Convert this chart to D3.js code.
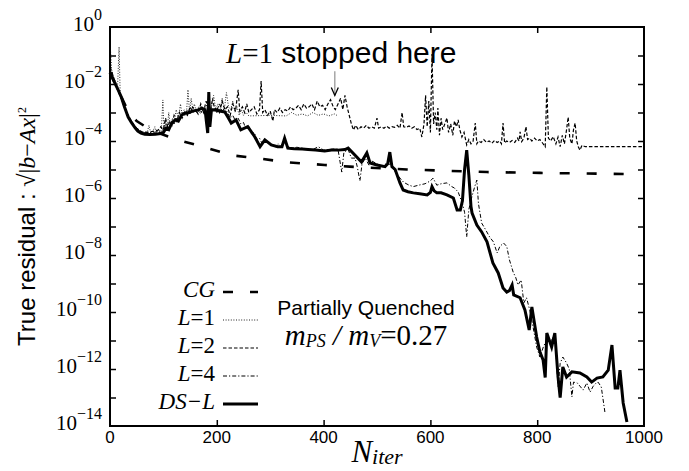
<!DOCTYPE html>
<html>
<head>
<meta charset="utf-8">
<script src="https://cdn.jsdelivr.net/npm/d3@7"></script>
<style>
  body { margin: 0; background: #fff; }
  .serif { font-family: "Liberation Serif", "Times New Roman", serif; }
  .sans { font-family: "Liberation Sans", Arial, sans-serif; }
</style>
</head>
<body>
<svg id="chart" width="689" height="471"></svg>
<script>
// values: [iteration, log10(residual)]
var cgData = [[0,-1.6],[20,-2.4],[35,-3.0],[50,-3.3],[75,-3.6],[100,-3.78],[127,-3.96],[183,-4.25],[227,-4.5],[283,-4.62],
  [327,-4.74],[402,-4.84],[449,-4.9],[556,-5.0],[706,-5.09],[805,-5.12],[966,-5.16]];

var l1Data = [[0,-0.5],[3,-1.5],[6,-1.7],[10,-1.9],[14,-2.2],[17,-0.7],[19,-2.3],[22,-2.5],[26,-2.7],[30,-2.9],[35,-3.1],
  [40,-3.3],[45,-3.45],[50,-3.55],[55,-3.62],[60,-3.68],[65,-3.7],[70,-3.68],[73,-3.45],[76,-3.7],[80,-3.68],[84,-3.5],
  [87,-3.7],[92,-3.62],[96,-3.68],[99,-2.56],[101,-3.6],[104,-3.3],[107,-3.65],[110,-3.0],[113,-3.5],[117,-3.2],[120,-3.4],
  [124,-2.9],[128,-3.2],[132,-2.7],[135,-3.1],[139,-2.9],[143,-3.1],[146,-2.2],[149,-3.0],[152,-2.5],[155,-2.9],[158,-2.7],
  [162,-3.0],[166,-2.8],[170,-3.0],[174,-2.9],[178,-3.05],[182,-2.6],[186,-3.0],[190,-2.8],[194,-2.4],[198,-2.9],[202,-2.7],
  [206,-3.0],[210,-2.5],[214,-2.9],[218,-2.3],[222,-2.8],[226,-2.9],[230,-2.6],[234,-3.0],[238,-2.8],[242,-3.1],[246,-2.9],
  [250,-3.1],[255,-3.0],[260,-3.12],[300,-3.1],[330,-3.12],[340,-3.0],[350,-3.1],[360,-3.05],[370,-3.12],[380,-3.0],
  [390,-3.1],[400,-3.05],[410,-3.12],[420,-3.05],[425,-3.1]];

var l2Data = [[0,-1.4],[4,-1.6],[8,-1.9],[12,-2.1],[16,-2.3],[20,-2.45],[25,-2.7],[30,-2.95],[35,-3.15],[40,-3.3],[45,-3.45],
  [50,-3.55],[55,-3.63],[60,-3.68],[70,-3.7],[80,-3.66],[90,-3.62],[95,-3.5],[100,-3.6],[104,-3.2],[108,-3.5],[112,-3.3],
  [116,-3.45],[120,-3.1],[125,-3.3],[130,-3.0],[135,-3.2],[140,-3.0],[145,-3.1],[150,-2.8],[155,-3.0],[160,-2.9],[165,-3.05],
  [170,-2.7],[175,-3.0],[180,-2.6],[184,-2.9],[188,-3.0],[192,-2.5],[196,-2.9],[200,-2.8],[205,-3.0],[210,-2.6],[215,-2.9],
  [220,-2.8],[225,-3.1],[230,-2.7],[235,-2.95],[240,-2.2],[243,-2.95],[248,-2.8],[252,-3.0],[256,-2.7],[260,-3.0],[265,-2.9],
  [270,-2.8],[275,-3.05],[280,-2.9],[283,-1.9],[286,-3.0],[290,-2.9],[295,-3.1],[300,-2.95],[305,-3.3],[308,-2.9],[313,-3.0],
  [318,-2.85],[323,-3.0],[328,-2.9],[333,-2.95],[338,-2.8],[343,-2.9],[348,-2.85],[353,-2.75],[358,-2.9],[363,-2.7],
  [368,-2.85],[373,-2.8],[378,-2.7],[383,-2.9],[388,-2.6],[393,-2.8],[398,-2.75],[403,-2.9],[408,-2.7],[413,-2.55],
  [418,-2.8],[422,-2.9],[427,-2.7],[432,-2.5],[436,-2.9],[440,-2.4],[444,-2.8],[448,-3.1],[452,-3.4],[456,-3.61],[460,-3.45],
  [465,-3.6],[470,-3.5],[475,-3.55],[480,-3.45],[485,-3.55],[490,-3.5],[495,-3.55],[500,-3.2],[503,-3.55],[508,-3.5],
  [513,-3.55],[518,-3.48],[523,-3.55],[528,-3.5],[533,-3.52],[538,-3.45],[543,-3.55],[547,-3.0],[550,-3.5],[555,-3.52],
  [560,-3.47],[565,-3.55],[570,-3.5],[575,-3.6],[580,-3.55],[584,-3.86],[588,-3.4],[591,-2.4],[594,-3.5],[597,-2.6],
  [600,-3.7],[603,-0.95],[606,-3.4],[609,-3.0],[612,-3.6],[614,-2.84],[617,-3.8],[620,-3.2],[623,-3.6],[627,-3.4],
  [631,-3.19],[634,-3.7],[638,-3.4],[642,-3.8],[645,-3.3],[649,-3.5],[652,-3.26],[655,-3.6],[659,-3.86],[663,-3.7],
  [668,-4.14],[672,-3.95],[676,-4.1],[680,-4.0],[684,-3.37],[687,-4.1],[690,-4.0],[695,-4.05],[700,-3.95],[705,-4.05],
  [710,-4.0],[715,-4.08],[720,-3.98],[725,-4.05],[730,-4.0],[733,-4.1],[736,-3.37],[739,-4.07],[743,-4.0],[748,-4.05],
  [753,-3.98],[758,-4.05],[763,-3.9],[766,-4.0],[768,-3.68],[771,-4.02],[775,-3.9],[779,-3.5],[782,-3.95],[786,-3.9],
  [790,-4.0],[795,-3.9],[800,-4.0],[805,-3.95],[810,-4.07],[815,-4.2],[818,-2.1],[821,-3.9],[825,-4.0],[830,-3.85],
  [835,-4.1],[839,-3.86],[843,-4.2],[847,-3.8],[851,-4.1],[855,-3.6],[858,-3.16],[861,-3.9],[865,-4.1],[868,-3.6],
  [871,-3.37],[874,-4.0],[877,-4.2],[880,-4.32],[884,-4.15],[890,-4.2],[899,-4.2],[1000,-4.2]];

var l4Data = [[0,-1.5],[5,-1.7],[10,-2.0],[15,-2.25],[20,-2.45],[25,-2.7],[30,-2.95],[35,-3.15],[40,-3.3],[45,-3.45],
  [50,-3.55],[55,-3.63],[60,-3.7],[70,-3.72],[80,-3.7],[90,-3.68],[100,-3.6],[105,-3.4],[110,-3.55],[115,-3.3],[120,-3.4],
  [125,-3.2],[130,-3.3],[135,-3.0],[140,-3.1],[145,-2.9],[150,-3.05],[155,-2.8],[160,-3.0],[165,-2.9],[170,-3.05],
  [175,-2.85],[180,-3.0],[185,-2.8],[190,-2.95],[195,-2.9],[200,-3.0],[205,-2.7],[210,-2.95],[215,-2.85],[220,-3.0],
  [225,-3.2],[230,-3.1],[235,-3.3],[240,-3.2],[245,-3.4],[250,-3.35],[255,-3.6],[260,-3.5],[265,-3.75],[270,-3.7],
  [275,-3.95],[280,-3.9],[285,-4.1],[290,-3.95],[295,-4.05],[300,-4.1],[305,-4.15],[310,-4.2],[315,-4.1],[320,-4.2],
  [327,-3.9],[333,-4.2],[340,-4.25],[350,-4.22],[360,-4.25],[370,-4.28],[380,-4.3],[390,-4.2],[400,-4.32],[410,-4.3],
  [420,-4.28],[427,-4.3],[434,-5.09],[438,-4.4],[446,-4.3],[452,-4.6],[459,-4.6],[463,-4.9],[468,-5.4],[472,-4.8],
  [478,-4.6],[485,-4.85],[490,-4.7],[500,-4.8],[510,-4.9],[520,-4.75],[528,-4.9],[535,-5.1],[543,-5.3],[550,-5.45],
  [560,-5.55],[568,-5.6],[578,-5.55],[590,-5.5],[600,-5.4],[605,-5.3],[612,-5.55],[620,-5.5],[631,-5.47],[640,-5.6],
  [645,-5.65],[652,-5.79],[660,-6.2],[664,-6.5],[668,-7.37],[672,-6.4],[677,-6.0],[683,-5.6],[687,-5.37],[690,-6.2],
  [696,-6.88],[703,-7.1],[711,-7.37],[718,-7.54],[725,-7.93],[730,-7.7],[737,-7.58],[743,-7.7],[748,-8.17],[755,-8.6],
  [760,-8.8],[764,-9.05],[770,-8.88],[775,-9.68],[780,-9.5],[786,-9.93],[792,-10.5],[799,-11.23],[805,-11.58],[812,-11.2],
  [820,-10.9],[827,-11.0],[833,-10.74],[839,-12.63],[843,-11.8],[848,-11.58],[855,-11.79],[860,-12.0],[865,-12.98],
  [868,-12.46],[875,-12.49],[880,-12.6],[886,-12.74],[893,-12.49],[899,-12.81],[905,-12.6],[910,-12.5],[914,-12.46],
  [920,-12.63],[927,-13.54]];

var dslData = [[0,-1.6],[5,-1.8],[10,-2.0],[15,-2.2],[21,-2.45],[27,-2.8],[34,-3.16],[40,-3.35],[47,-3.54],[52,-3.65],
  [58,-3.72],[65,-3.76],[75,-3.77],[85,-3.76],[95,-3.74],[100,-3.7],[105,-3.55],[110,-3.6],[115,-3.4],[122,-3.26],
  [128,-3.3],[134,-3.1],[140,-3.02],[148,-3.0],[155,-2.95],[165,-2.91],[172,-2.85],[178,-2.9],[181,-3.4],[183,-3.72],
  [185,-2.28],[187,-3.5],[190,-2.9],[197,-2.91],[205,-2.95],[215,-2.98],[222,-3.2],[227,-3.37],[236,-3.26],[245,-3.61],
  [258,-3.5],[271,-3.85],[281,-4.2],[290,-3.96],[302,-4.14],[314,-4.2],[322,-4.2],[327,-3.9],[333,-4.25],[345,-4.27],
  [360,-4.28],[371,-4.3],[385,-4.32],[402,-4.35],[415,-4.32],[427,-4.32],[440,-4.3],[446,-4.25],[459,-4.5],[471,-4.74],
  [481,-4.42],[487,-4.77],[500,-4.84],[515,-4.9],[520,-4.8],[524,-4.39],[528,-4.9],[534,-5.0],[543,-5.47],[549,-5.72],
  [558,-5.78],[568,-5.82],[580,-5.85],[594,-5.89],[600,-5.8],[603,-5.6],[607,-5.75],[612,-5.82],[620,-5.82],[631,-5.89],
  [643,-6.0],[650,-6.42],[656,-6.42],[660,-6.1],[664,-5.0],[668,-4.32],[672,-5.2],[676,-6.3],[678,-6.53],[687,-6.95],
  [696,-7.19],[706,-7.54],[717,-8.28],[727,-8.63],[736,-9.16],[743,-9.3],[748,-9.25],[753,-9.05],[756,-9.4],[768,-9.5],
  [777,-9.93],[785,-10.63],[790,-9.82],[799,-10.88],[805,-11.4],[811,-11.68],[815,-12.3],[818,-10.74],[827,-11.23],
  [833,-10.74],[839,-12.28],[843,-13.0],[848,-11.93],[855,-12.28],[865,-12.1],[880,-12.14],[893,-12.28],[902,-12.46],
  [912,-12.32],[923,-12.28],[933,-12.04],[940,-11.16],[946,-12.67],[951,-12.67],[955,-12.04],[961,-13.19],[968,-13.86]];

var xTicks = [0, 200, 400, 600, 800, 1000];
var yExps = [0, -1, -2, -3, -4, -5, -6, -7, -8, -9, -10, -11, -12, -13, -14];
var yLabelExps = [0, -2, -4, -6, -8, -10, -12, -14];
var legendNames = ["CG", "L=1", "L=2", "L=4", "DS\u2212L"];
var stopIter = 421;

// plot box
var plotL = 110, plotR = 644, plotT = 27, plotB = 426;

var svg = d3.select("#chart");

var x = d3.scaleLinear().domain([0, 1000]).range([plotL, plotR]);
var y = d3.scaleLog().domain([1e-14, 1]).range([plotB, plotT]);

var styles = [
  {w: 2.6, dash: "10,17", col: "#000"},
  {w: 1, dash: "1,1.6", col: "#222"},
  {w: 1.2, dash: "3.5,2", col: "#000"},
  {w: 1, dash: "4,2,1.2,2", col: "#000"},
  {w: 3, dash: null, col: "#000"}
];
var series = [cgData, l1Data, l2Data, l4Data, dslData];

var line = d3.line()
  .x(function(d) { return x(d[0]); })
  .y(function(d) { return y(Math.pow(10, d[1])); });

series.forEach(function(s, i) {
  svg.append("path")
    .datum(s)
    .attr("d", line)
    .attr("fill", "none")
    .attr("stroke", styles[i].col)
    .attr("stroke-width", styles[i].w)
    .attr("stroke-linejoin", "miter")
    .attr("stroke-dasharray", styles[i].dash);
});

// axes, ticks inward on all sides
var tickLen = 6;
function cleanAxis(g) {
  g.select(".domain").remove();
  g.selectAll(".tick line").attr("stroke", "#000").attr("stroke-width", 1.5);
  g.selectAll(".tick text").remove();
}
svg.append("g").attr("transform", "translate(0," + plotB + ")")
  .call(d3.axisBottom(x).tickValues(xTicks.slice(1, -1)).tickSize(-tickLen)).call(cleanAxis);
svg.append("g").attr("transform", "translate(0," + plotT + ")")
  .call(d3.axisTop(x).tickValues(xTicks.slice(1, -1)).tickSize(-tickLen)).call(cleanAxis);
var yVals = yExps.slice(1, -1).map(function(e) { return Math.pow(10, e); });
svg.append("g").attr("transform", "translate(" + plotL + ",0)")
  .call(d3.axisLeft(y).tickValues(yVals).tickSize(-tickLen)).call(cleanAxis);
svg.append("g").attr("transform", "translate(" + plotR + ",0)")
  .call(d3.axisRight(y).tickValues(yVals).tickSize(-tickLen)).call(cleanAxis);

svg.append("rect")
  .attr("x", plotL).attr("y", plotT)
  .attr("width", plotR - plotL).attr("height", plotB - plotT)
  .attr("fill", "none").attr("stroke", "#000").attr("stroke-width", 2);

// x tick labels
svg.selectAll(".xl").data(xTicks).enter().append("text")
  .attr("class", "sans")
  .attr("x", function(d) { return x(d); })
  .attr("y", plotB + 17)
  .attr("text-anchor", "middle")
  .attr("font-size", 17)
  .text(function(d) { return d; });

// y tick labels 10^n
yLabelExps.forEach(function(e) {
  var yy = y(Math.pow(10, e));
  var t = svg.append("text").attr("class", "serif")
    .attr("x", 102).attr("y", yy + 4).attr("text-anchor", "end").attr("font-size", 21);
  t.append("tspan").text("10");
  t.append("tspan").attr("font-size", 16).attr("dy", -11)
    .text(e === 0 ? "0" : "\u2212" + (-e));
});

// axis titles
var xt = svg.append("text").attr("class", "serif")
  .attr("x", (plotL + plotR) / 2).attr("y", 462)
  .attr("text-anchor", "middle").attr("font-style", "italic");
xt.append("tspan").attr("font-size", 31).text("N");
xt.append("tspan").attr("font-size", 22).attr("dy", 2).text("iter");

var yt = svg.append("text")
  .attr("transform", "translate(35," + ((plotT + plotB) / 2) + ") rotate(-90)")
  .attr("text-anchor", "middle").attr("font-size", 24);
yt.append("tspan").attr("class", "sans").text("True residual : ");
yt.append("tspan").attr("class", "serif").text("\u221A|");
yt.append("tspan").attr("class", "serif").attr("font-style", "italic").text("b");
yt.append("tspan").attr("class", "serif").text("\u2212");
yt.append("tspan").attr("class", "serif").attr("font-style", "italic").text("Ax");
yt.append("tspan").attr("class", "serif").text("|");
yt.append("tspan").attr("class", "serif").attr("font-size", 12).attr("dy", -9).text("2");

// annotation
var ann = svg.append("text").attr("x", 226).attr("y", 63);
ann.append("tspan").attr("class", "serif").attr("font-style", "italic").attr("font-size", 29).text("L");
ann.append("tspan").attr("class", "serif").attr("font-size", 29).text("=1");
ann.append("tspan").attr("class", "sans").attr("font-size", 30).text(" stopped here");

var ax = x(stopIter), ay0 = y(Math.pow(10, -1.55)), ay1 = y(Math.pow(10, -2.4));
svg.append("line").attr("x1", ax).attr("x2", ax).attr("y1", ay0).attr("y2", ay1)
  .attr("stroke", "#999").attr("stroke-width", 1.3);
svg.append("polyline")
  .attr("points", [[ax - 3.5, ay1 - 8], [ax, ay1], [ax + 3.5, ay1 - 8]].join(" "))
  .attr("fill", "none").attr("stroke", "#000").attr("stroke-width", 1.3);

// legend
legendNames.forEach(function(name, i) {
  var ly = 297 + i * 28;
  var t = svg.append("text").attr("class", "serif")
    .attr("x", 215).attr("y", ly).attr("text-anchor", "end").attr("font-size", 23);
  if (name.indexOf("=") > 0) {
    t.append("tspan").attr("font-style", "italic").text(name.split("=")[0]);
    t.append("tspan").text("=" + name.split("=")[1]);
  } else {
    t.append("tspan").attr("font-style", "italic").text(name);
  }
  svg.append("line")
    .attr("x1", 223).attr("x2", 258).attr("y1", ly - 5).attr("y2", ly - 5)
    .attr("stroke", styles[i].col).attr("stroke-width", styles[i].w)
    .attr("stroke-dasharray", styles[i].dash);
});

svg.append("text").attr("class", "sans")
  .attr("x", 366).attr("y", 315).attr("text-anchor", "middle").attr("font-size", 21)
  .text("Partially Quenched");
var mt = svg.append("text").attr("class", "serif")
  .attr("x", 366).attr("y", 345).attr("text-anchor", "middle").attr("font-size", 29);
mt.append("tspan").attr("font-style", "italic").text("m");
mt.append("tspan").attr("font-style", "italic").attr("font-size", 18).attr("dy", 2).text("PS");
mt.append("tspan").attr("font-style", "italic").attr("dy", -2).text(" / m");
mt.append("tspan").attr("font-style", "italic").attr("font-size", 18).attr("dy", 2).text("V");
mt.append("tspan").attr("dy", -2).text("=0.27");
</script>
</body>
</html>
